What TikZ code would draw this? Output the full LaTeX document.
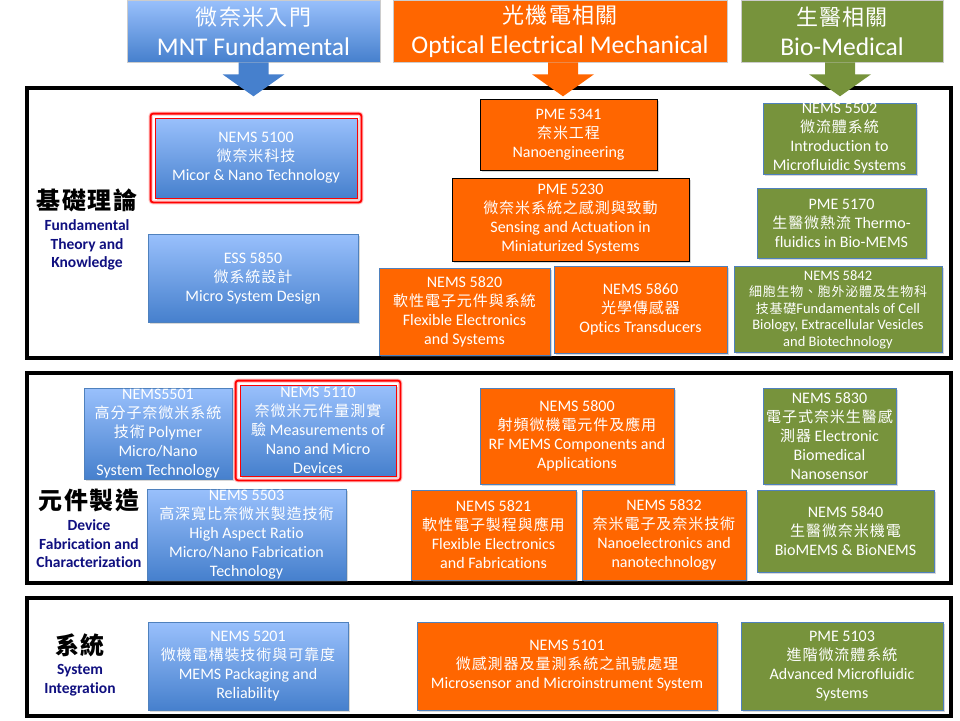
\documentclass[tikz,border=0pt]{standalone}
\usepackage{fontspec}
\setmainfont{Carlito}[Ligatures=NoCommon]
\newfontfamily\cjk[LetterSpace=6,Scale=0.94]{Noto Sans CJK TC}
\newcommand\zh[1]{{\cjk #1}}
\usetikzlibrary{fit,shadows}
\definecolor{blueTop}{RGB}{153,192,252}
\definecolor{blueBot}{RGB}{70,128,205}
\definecolor{blueEdge}{RGB}{79,129,189}
\definecolor{mntOrange}{RGB}{255,102,0}
\definecolor{bioGreen}{RGB}{119,147,60}
\definecolor{labelNavy}{RGB}{16,16,128}
\tikzset{
  course/.style={draw=blueEdge, line width=0.8pt, text=white, align=center,
    font=\fontsize{16}{19}\selectfont, inner sep=0pt,
    drop shadow={shadow xshift=1.5pt, shadow yshift=-1.5pt, opacity=0.3}},
  bluebox/.style={course, top color=blueTop, bottom color=blueBot},
  orangebox/.style={course, fill=mntOrange},
  orangeblk/.style={orangebox, draw=black},
  greenbox/.style={course, fill=bioGreen},
  hotframe/.style={draw=red, line width=1.8pt, rounded corners=2.5pt, inner sep=4pt,
    preaction={draw=red!25, line width=4pt}},
  section/.style={draw=black, line width=4.5pt, fill=white, inner sep=0pt,
    drop shadow={shadow xshift=2pt, shadow yshift=-2pt, opacity=0.35}},
  header/.style={draw=black!20, line width=0.6pt, text=white, align=center,
    font=\fontsize{25.5}{30}\selectfont, inner sep=0pt},
  zhlabel/.style={font=\fontsize{25.5}{28}\selectfont\cjk\bfseries},
  enlabel/.style={text=labelNavy, align=center, font=\fontsize{15.5}{18.5}\selectfont\bfseries},
}
\begin{document}
\begin{tikzpicture}[x=1pt,y=-1pt]
  \useasboundingbox (0,0) rectangle (960,720);

  % the three groups
  \node[section, minimum width=924, minimum height=270] (secFun) at (489,223) {};
  \node[section, minimum width=924, minimum height=210] (secDev) at (489,478) {};
  \node[section, minimum width=924, minimum height=118] (secSys) at (489,657) {};

  % column headers
  \node[header, top color=blueTop, bottom color=blueBot, minimum width=253, minimum height=62] (hdrMNT) at (253.5,31)
    {\zh{\fontsize{23.4}{30}\selectfont 微奈米入門}\\MNT Fundamental};
  \node[header, fill=mntOrange, minimum width=334, minimum height=62] (hdrOEM) at (560,31)
    {\zh{\fontsize{23.4}{30}\selectfont 光機電相關}\\Optical Electrical Mechanical};
  \node[header, fill=bioGreen, minimum width=202, minimum height=62] (hdrBio) at (842,31)
    {\zh{\fontsize{23.4}{30}\selectfont 生醫相關}\\Bio-Medical};

  % row labels
  \node[zhlabel] (lblFun) at (87,200) {基礎理論};
  \node[enlabel] (lblFunEn) at (87,245) {Fundamental\\Theory and\\Knowledge};
  \node[zhlabel] (lblDev) at (89,500) {元件製造};
  \node[enlabel] (lblDevEn) at (89,544) {Device\\Fabrication and\\Characterization};
  \node[zhlabel] (lblSys) at (80,645) {系統};
  \node[enlabel] (lblSysEn) at (80,680) {System\\Integration};

  % fundamental theory
  \node[bluebox, draw=red, minimum width=202, minimum height=80] (n5100) at (256,158)
    {NEMS 5100\\\zh{微奈米科技}\\Micor \& Nano Technology};
  \node[hotframe, fit=(n5100)] (hot5100) {};
  \node[bluebox, minimum width=210, minimum height=88] (n5850) at (253,278)
    {ESS 5850\\\zh{微系統設計}\\Micro System Design};
  \node[orangeblk, minimum width=177, minimum height=71] (n5341) at (568.5,134.5)
    {PME 5341\\\zh{奈米工程}\\Nanoengineering};
  \node[orangeblk, minimum width=237, minimum height=83] (n5230) at (570.5,219.5)
    {PME 5230\\\zh{微奈米系統之感測與致動}\\Sensing and Actuation in\\Miniaturized Systems};
  \node[orangebox, minimum width=171, minimum height=87] (n5820) at (464.5,311.5)
    {NEMS 5820\\\zh{軟性電子元件與系統}\\Flexible Electronics\\and Systems};
  \node[orangebox, minimum width=173, minimum height=87] (n5860) at (640.5,309.5)
    {NEMS 5860\\\zh{光學傳感器}\\Optics Transducers};
  \node[greenbox, minimum width=153, minimum height=71] (n5502) at (839.5,138.5)
    {NEMS 5502\\\zh{微流體系統}\\Introduction to\\Microfluidic Systems};
  \node[greenbox, minimum width=169, minimum height=70] (n5170) at (841.5,223)
    {PME 5170\\\zh{生醫微熱流} Thermo-\\fluidics in Bio-MEMS};
  \node[greenbox, font=\fontsize{14.5}{16.5}\selectfont, minimum width=208, minimum height=86] (n5842) at (838,309.5)
    {NEMS 5842\\{\fontsize{13.8}{16.5}\selectfont\zh{細胞生物、胞外泌體及生物科}}\\{\fontsize{13.8}{16.5}\selectfont\zh{技基礎}}Fundamentals of Cell\\Biology, Extracellular Vesicles\\and Biotechnology};

  % device fabrication
  \node[bluebox, minimum width=148, minimum height=91] (n5501) at (158,433.5)
    {NEMS5501\\\zh{高分子奈微米系統}\\\zh{技術} Polymer\\Micro/Nano\\System Technology};
  \node[bluebox, draw=red, minimum width=156, minimum height=91] (n5110) at (318,430.5)
    {NEMS 5110\\\zh{奈微米元件量測實}\\\zh{驗} Measurements of\\Nano and Micro\\Devices};
  \node[hotframe, fit=(n5110)] (hot5110) {};
  \node[bluebox, minimum width=199, minimum height=91] (n5503) at (246.5,534.5)
    {NEMS 5503\\\zh{高深寬比奈微米製造技術}\\High Aspect Ratio\\Micro/Nano Fabrication\\Technology};
  \node[orangebox, minimum width=194, minimum height=96] (n5800) at (577,436)
    {NEMS 5800\\\zh{射頻微機電元件及應用}\\RF MEMS Components and\\Applications};
  \node[orangebox, minimum width=165, minimum height=90] (n5821) at (493.5,535)
    {NEMS 5821\\\zh{軟性電子製程與應用}\\Flexible Electronics\\and Fabrications};
  \node[orangebox, minimum width=164, minimum height=90] (n5832) at (664,535)
    {NEMS 5832\\\zh{奈米電子及奈米技術}\\Nanoelectronics and\\nanotechnology};
  \node[greenbox, minimum width=133, minimum height=96] (n5830) at (829.5,436)
    {NEMS 5830\\\zh{電子式奈米生醫感}\\\zh{測器} Electronic\\Biomedical\\Nanosensor};
  \node[greenbox, minimum width=177, minimum height=82] (n5840) at (845.5,531)
    {NEMS 5840\\\zh{生醫微奈米機電}\\BioMEMS \& BioNEMS};

  % system integration
  \node[bluebox, minimum width=200, minimum height=88] (n5201) at (248,666)
    {NEMS 5201\\\zh{微機電構裝技術與可靠度}\\MEMS Packaging and\\Reliability};
  \node[orangebox, minimum width=300, minimum height=88] (n5101) at (567,666)
    {NEMS 5101\\\zh{微感測器及量測系統之訊號處理}\\Microsensor and Microinstrument System};
  \node[greenbox, minimum width=202, minimum height=88] (n5103) at (842,666)
    {PME 5103\\\zh{進階微流體系統}\\Advanced Microfluidic\\Systems};

  % block arrows under the headers
  \fill[blueBot] (hdrMNT.south) ++(-15,0) -- ++(0,12) -- ++(-16,0) -- ++(31,22) -- ++(31,-22) -- ++(-16,0) -- ++(0,-12) -- cycle;
  \fill[mntOrange] (hdrOEM.south) ++(-12,0) -- ++(0,12) -- ++(-16,0) -- ++(31,22) -- ++(31,-22) -- ++(-16,0) -- ++(0,-12) -- cycle;
  \fill[bioGreen] (hdrBio.south) ++(-17,0) -- ++(0,12) -- ++(-16,0) -- ++(31,22) -- ++(31,-22) -- ++(-16,0) -- ++(0,-12) -- cycle;
\end{tikzpicture}
\end{document}
